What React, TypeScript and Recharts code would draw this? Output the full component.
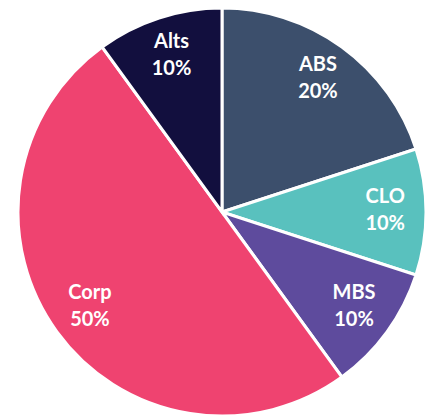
import { PieChart, Pie, Cell } from 'recharts';

const categories = ['ABS', 'CLO', 'MBS', 'Corp', 'Alts'];
const shares = [20, 10, 10, 50, 10];

// slice colours, same order as categories
const COLORS = ['#3c4f6c', '#59c1be', '#5e4b9d', '#ef4370', '#120f3e'];

const data = categories.map((name, i) => ({ name, value: shares[i] }));

const RADIAN = Math.PI / 180;

function renderLabel(props: any) {
  const { cx, cy, midAngle, outerRadius, name, value } = props;
  const r = outerRadius * 0.8;
  const x = cx + r * Math.cos(-midAngle * RADIAN);
  const y = cy + r * Math.sin(-midAngle * RADIAN);
  return (
    <text
      x={x}
      y={y}
      fill="#ffffff"
      textAnchor="middle"
      fontFamily="Lato, 'Open Sans', sans-serif"
      fontWeight={700}
      fontSize={20}
    >
      <tspan x={x} dy={-9}>{name}</tspan>
      <tspan x={x} dy={27}>{`${value}%`}</tspan>
    </text>
  );
}

export default function App() {
  return (
    <div style={{ position: 'absolute', left: 0, top: 0, width: 432, height: 416, background: '#fff' }}>
      <PieChart width={432} height={416} margin={{ top: 0, right: 0, bottom: 0, left: 0 }}>
        <Pie
          data={data}
          dataKey="value"
          nameKey="name"
          cx={222}
          cy={212}
          outerRadius={204}
          startAngle={90}
          endAngle={-270}
          stroke="#ffffff"
          strokeWidth={3}
          labelLine={false}
          label={renderLabel}
          isAnimationActive={false}
        >
          {data.map((entry, i) => (
            <Cell key={`cell-${entry.name}`} fill={COLORS[i]} />
          ))}
        </Pie>
      </PieChart>
    </div>
  );
}
